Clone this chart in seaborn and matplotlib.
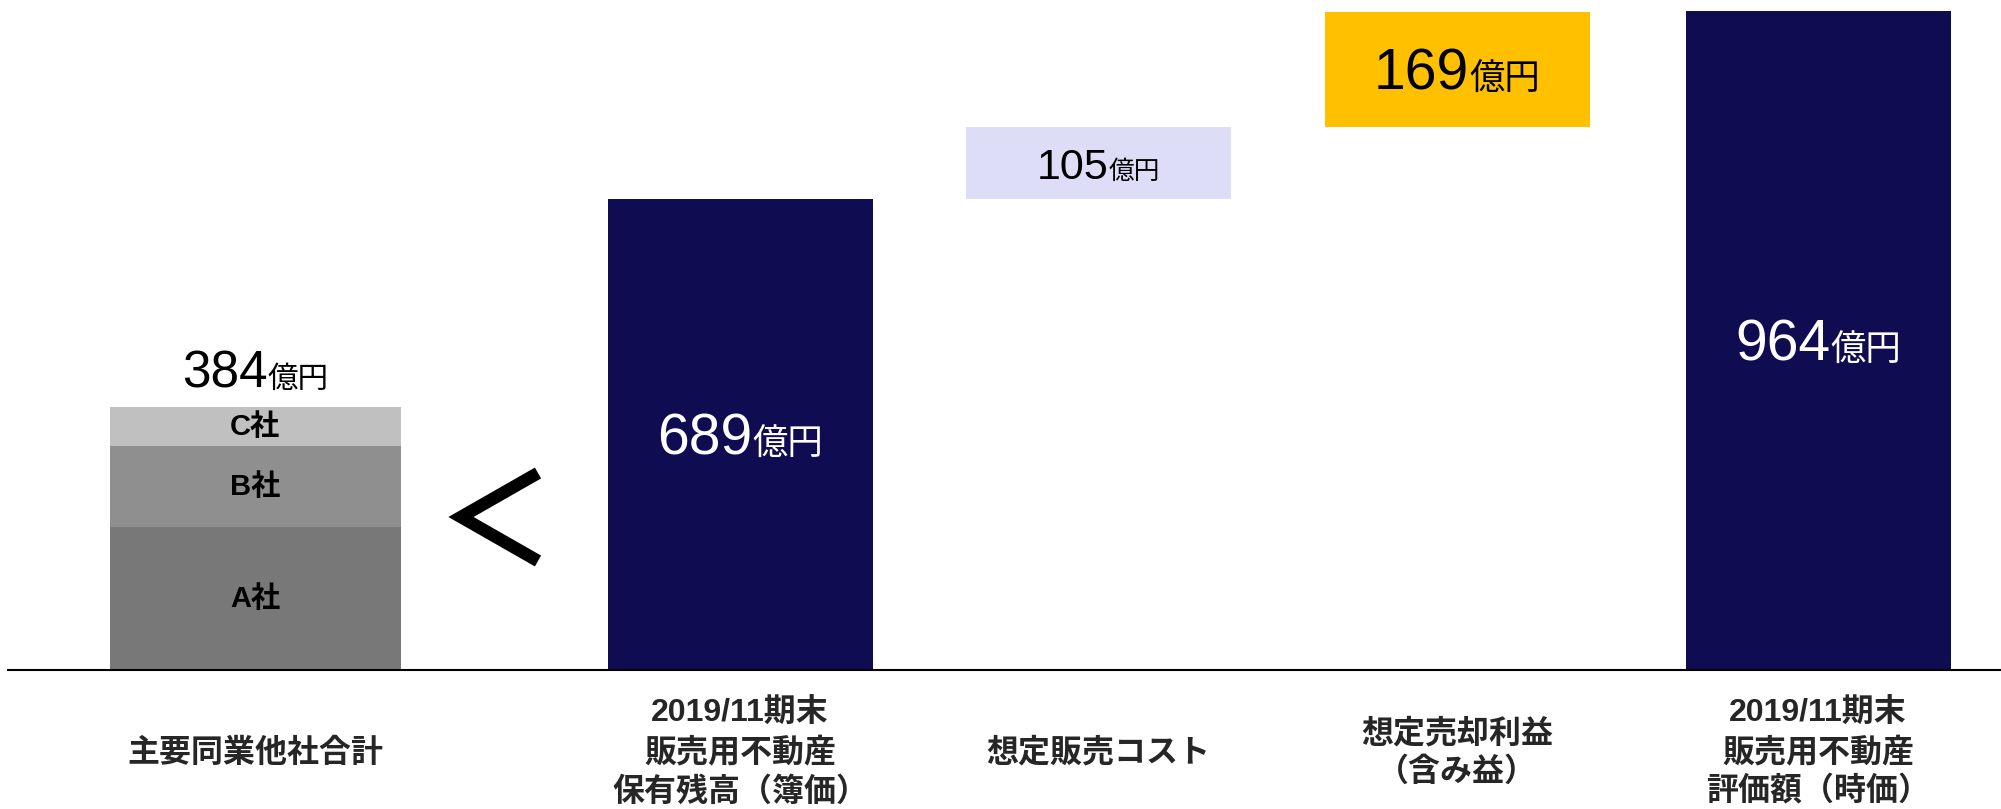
import numpy as np
import pandas as pd
import matplotlib
matplotlib.use("Agg")
import matplotlib.pyplot as plt
import matplotlib.transforms as mtransforms
from matplotlib.lines import Line2D
import seaborn as sns

# data (億円)
categories = [
    "主要同業他社合計",
    "2019/11期末\n販売用不動産\n保有残高（簿価）",
    "想定販売コスト",
    "想定売却利益\n（含み益）",
    "2019/11期末\n販売用不動産\n評価額（時価）",
]
peer_names = ["A社", "B社", "C社"]
peer_values = [209, 118, 57]
book_value = 689
sale_cost = 105
unrealized_gain = 169
market_value = 964

# layout (x in pixel-like units along the axis)
x_pos = [255, 740, 1098, 1457, 1818]
bar_width = 265
stack_width = 291

navy = "#100C52"
lavender = "#DDDDF8"
gold = "#FFC000"
peer_colors = ["#787878", "#8F8F8F", "#C0C0C0"]

sns.set_theme(style="white")
plt.rcParams["font.family"] = ["Liberation Sans", "Noto Sans CJK JP", "DejaVu Sans"]

fig = plt.figure(figsize=(20.01, 8.09), dpi=100)
ax = fig.add_axes([8 / 2001, 139 / 809, 1 - 8 / 2001, 659 / 809])


def draw_bar(x, height, bottom, color, width):
    sns.barplot(x=[x], y=[height], native_scale=True, width=width, bottom=bottom,
                color=color, saturation=1, errorbar=None, linewidth=0, ax=ax)


# stacked peer bar
bottom = 0
for name, val, col in zip(peer_names, peer_values, peer_colors):
    draw_bar(x_pos[0], val, bottom, col, stack_width)
    ax.text(x_pos[0], bottom + val / 2, name, ha="center", va="center",
            fontsize=21, fontweight="bold", color="black")
    bottom += val
peer_total = bottom

# waterfall
draw_bar(x_pos[1], book_value, 0, navy, bar_width)
draw_bar(x_pos[2], sale_cost, book_value, lavender, bar_width)
draw_bar(x_pos[3], unrealized_gain, book_value + sale_cost, gold, bar_width)
draw_bar(x_pos[4], market_value, 0, navy, bar_width)

ax.set_xlim(8, 2001)
ax.set_ylim(0, market_value)

labels = []


def value_label(x, y, number, num_size, unit_size, color, dy=0):
    px = fig.dpi / 72
    oy = dy - 0.358 * num_size * px
    tr = mtransforms.offset_copy(ax.transData, fig=fig, x=0, y=oy, units="dots")
    t1 = ax.text(x, y, str(number), fontsize=num_size, color=color,
                 ha="right", va="baseline", transform=tr)
    t2 = ax.text(x, y, "億円", fontsize=unit_size, color=color,
                 ha="left", va="baseline", transform=tr)
    labels.append((t1, t2, oy))


value_label(x_pos[0], peer_total, peer_total, 37, 22, "black", dy=38)
value_label(x_pos[1], book_value / 2, book_value, 41, 25.5, "white")
value_label(x_pos[2], book_value + sale_cost / 2, sale_cost, 31, 18.5, "black")
value_label(x_pos[3], book_value + sale_cost + unrealized_gain / 2, unrealized_gain, 41, 25.5, "black")
value_label(x_pos[4], market_value / 2, market_value, 41, 25.5, "white")

# center number + unit pairs
fig.canvas.draw()
for t1, t2, oy in labels:
    w1 = t1.get_window_extent().width
    w2 = t2.get_window_extent().width
    tr = mtransforms.offset_copy(ax.transData, fig=fig, x=(w1 - w2) / 2, y=oy, units="dots")
    t1.set_transform(tr)
    t2.set_transform(tr)

# category labels
ax.set_xticks(x_pos)
ax.set_xticklabels(categories, fontsize=23, fontweight="bold", linespacing=1.35)
for lbl in ax.get_xticklabels():
    lbl.set_va("center")
ax.tick_params(axis="x", length=0, pad=60)
ax.set_yticks([])
ax.set_xlabel("")
ax.set_ylabel("")

sns.despine(ax=ax, left=True, top=True, right=True)
ax.spines["bottom"].set_color("black")
ax.spines["bottom"].set_linewidth(1.5)

# "<" comparison sign between peers and book value
chev_x = np.array([538, 461, 538]) / 2001
chev_y = 1 - np.array([473, 517, 561]) / 809
fig.add_artist(Line2D(chev_x, chev_y, transform=fig.transFigure, color="black",
                      linewidth=9, solid_capstyle="butt", solid_joinstyle="miter"))

fig.savefig("out.png", dpi=100, facecolor="white")
